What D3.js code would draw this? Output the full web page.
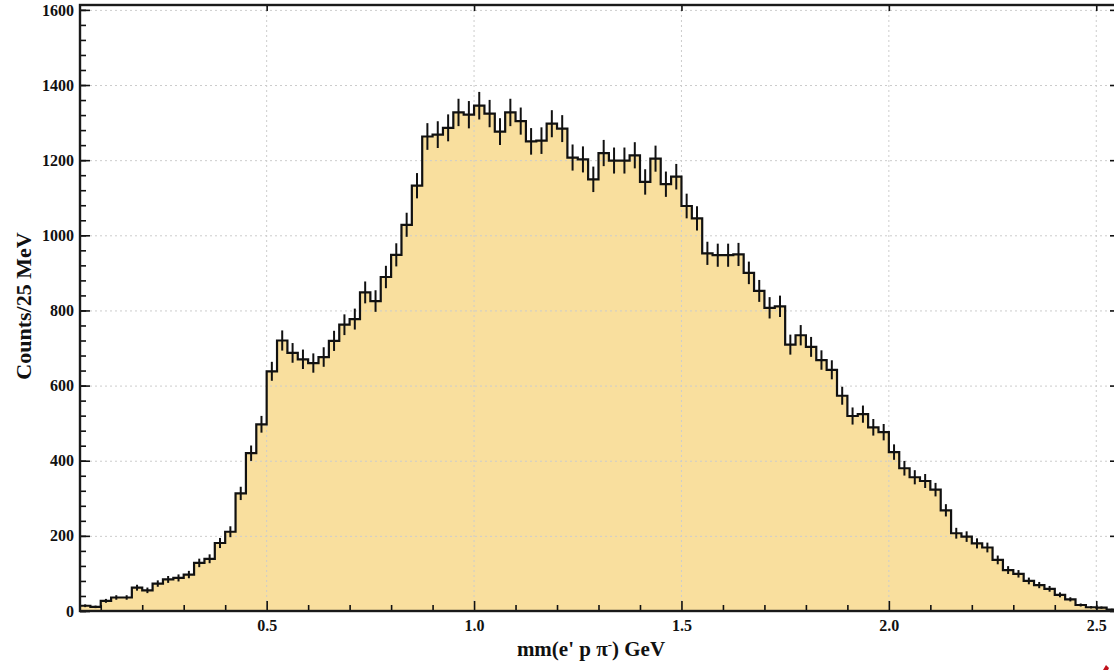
<!DOCTYPE html>
<html>
<head>
<meta charset="utf-8">
<script src="https://cdn.jsdelivr.net/npm/d3@7"></script>
<style>
  html, body { margin: 0; padding: 0; background: #ffffff; }
  svg { display: block; }
  .lbl { font-family: "Liberation Serif", "Times New Roman", serif; font-weight: bold; fill: #111; }
</style>
</head>
<body>
<svg id="chart" width="1114" height="670"></svg>
<script>
// Missing-mass histogram, 25 MeV bins from 0.05 to 2.55 GeV
const xMin = 0.05;
const binWidth = 0.025;
const counts = [
  14, 11, 27, 36, 36, 62, 55, 73, 84, 88,
  97, 128, 139, 181, 211, 313, 420, 497, 638, 720,
  687, 670, 660, 676, 719, 762, 777, 848, 825, 889,
  948, 1028, 1132, 1263, 1268, 1286, 1327, 1321, 1345, 1324,
  1276, 1327, 1304, 1250, 1252, 1297, 1284, 1207, 1202, 1149,
  1219, 1199, 1199, 1213, 1142, 1204, 1136, 1156, 1078, 1045,
  952, 947, 947, 949, 900, 852, 807, 811, 709, 734,
  703, 668, 642, 573, 519, 524, 489, 476, 423, 380,
  356, 346, 323, 268, 207, 198, 180, 169, 136, 109,
  99, 80, 69, 59, 43, 31, 16, 10, 9, 4
];
const xMajorTicks = [0.5, 1.0, 1.5, 2.0, 2.5];
const xTickLabels = ["0.5", "1.0", "1.5", "2.0", "2.5"];
const xMinorTicks = [0.1, 0.2, 0.3, 0.4, 0.6, 0.7, 0.8, 0.9, 1.1, 1.2, 1.3, 1.4, 1.6, 1.7, 1.8, 1.9, 2.1, 2.2, 2.3, 2.4, 2.5];
const yMajorTicks = [0, 200, 400, 600, 800, 1000, 1200, 1400, 1600];
const yTickLabels = ["0", "200", "400", "600", "800", "1000", "1200", "1400", "1600"];

(function draw() {
  const xMax = xMin + binWidth * counts.length;
  const bins = counts.map((c, i) => ({ x0: xMin + i * binWidth, x1: xMin + (i + 1) * binWidth, n: c }));

  const svg = d3.select("#chart");
  const pLeft = 80, pRight = 1117, pTop = 5, pBottom = 611;

  const x = d3.scaleLinear().domain([xMin, xMax]).range([pLeft, pRight]);
  const y = d3.scaleLinear().domain([0, 1613]).range([pBottom, pTop]);

  // filled histogram body
  const stepPts = bins.map(b => [b.x0, b.n]).concat([[xMax, counts[counts.length - 1]]]);
  const area = d3.area()
    .x(d => x(d[0])).y0(y(0)).y1(d => y(d[1]))
    .curve(d3.curveStepAfter);
  svg.append("path").datum(stepPts)
    .attr("d", area)
    .attr("fill", "#f9df9e");

  // dotted grid
  const grid = svg.append("g").attr("stroke", "#cccccc").attr("stroke-width", 1)
    .attr("stroke-dasharray", "2,3");
  grid.selectAll("line.h").data(yMajorTicks.filter(v => v > 0)).join("line")
    .attr("class", "h")
    .attr("x1", pLeft).attr("x2", pRight)
    .attr("y1", d => y(d) + 0.5).attr("y2", d => y(d) + 0.5);
  grid.selectAll("line.v").data(xMajorTicks).join("line")
    .attr("class", "v")
    .attr("y1", pTop).attr("y2", pBottom)
    .attr("x1", d => x(d)).attr("x2", d => x(d));

  // step outline
  const line = d3.line().x(d => x(d[0])).y(d => y(d[1])).curve(d3.curveStepAfter);
  svg.append("path").datum(stepPts)
    .attr("d", line)
    .attr("fill", "none")
    .attr("stroke", "#111")
    .attr("stroke-width", 2.2);

  // Poisson error bars at bin centres
  svg.append("g").attr("stroke", "#111").attr("stroke-width", 2)
    .selectAll("line").data(bins).join("line")
    .attr("x1", d => x((d.x0 + d.x1) / 2)).attr("x2", d => x((d.x0 + d.x1) / 2))
    .attr("y1", d => y(d.n + Math.sqrt(d.n))).attr("y2", d => y(Math.max(0, d.n - Math.sqrt(d.n))));

  // axes with inward ticks
  const styleAxis = g => {
    g.select(".domain").remove();
    g.selectAll(".tick line").attr("stroke", "#111").attr("stroke-width", 1.6);
    g.selectAll(".tick text").attr("class", "lbl").attr("fill", "#111").style("font-size", "16px");
  };

  svg.append("g").attr("transform", `translate(${pLeft},0)`)
    .call(d3.axisLeft(y).tickValues(d3.range(0, 1601, 40)).tickSize(-6).tickFormat(""))
    .call(styleAxis);
  svg.append("g").attr("transform", `translate(${pLeft},0)`)
    .call(d3.axisLeft(y).tickValues(yMajorTicks).tickSize(-10).tickPadding(6)
      .tickFormat((d, i) => yTickLabels[i]))
    .call(styleAxis);

  svg.append("g").attr("transform", `translate(0,${pBottom})`)
    .call(d3.axisBottom(x).tickValues(xMinorTicks).tickSize(-6).tickFormat(""))
    .call(styleAxis);
  svg.append("g").attr("transform", `translate(0,${pBottom})`)
    .call(d3.axisBottom(x).tickValues(xMajorTicks).tickSize(-10).tickPadding(9)
      .tickFormat((d, i) => xTickLabels[i]))
    .call(styleAxis);

  svg.append("g").attr("transform", `translate(${pRight},0)`)
    .call(d3.axisRight(y).tickValues(yMajorTicks).tickSize(-7).tickFormat(""))
    .call(styleAxis);
  svg.append("g").attr("transform", `translate(0,${pTop})`)
    .call(d3.axisTop(x).tickValues(xMajorTicks).tickSize(-6).tickFormat(""))
    .call(styleAxis);

  // frame
  svg.append("rect")
    .attr("x", pLeft).attr("y", pTop)
    .attr("width", pRight - pLeft).attr("height", pBottom - pTop)
    .attr("fill", "none").attr("stroke", "#1a1a1a").attr("stroke-width", 2.4);

  // axis titles
  const xt = svg.append("text").attr("class", "lbl")
    .attr("x", 591).attr("y", 656).attr("text-anchor", "middle")
    .style("font-size", "21px");
  xt.append("tspan").text("mm(e' p π");
  xt.append("tspan").attr("dy", -7).style("font-size", "13px").text("-");
  xt.append("tspan").attr("dy", 7).text(") GeV");

  svg.append("text").attr("class", "lbl")
    .attr("transform", "translate(31,306) rotate(-90)")
    .attr("text-anchor", "middle")
    .style("font-size", "22px")
    .text("Counts/25 MeV");

  // small red mark in the lower right corner
  svg.append("path")
    .attr("d", "M1103,670 L1106,665 L1109,668 L1108,670 Z")
    .attr("fill", "#c0101a");
})();
</script>
</body>
</html>
